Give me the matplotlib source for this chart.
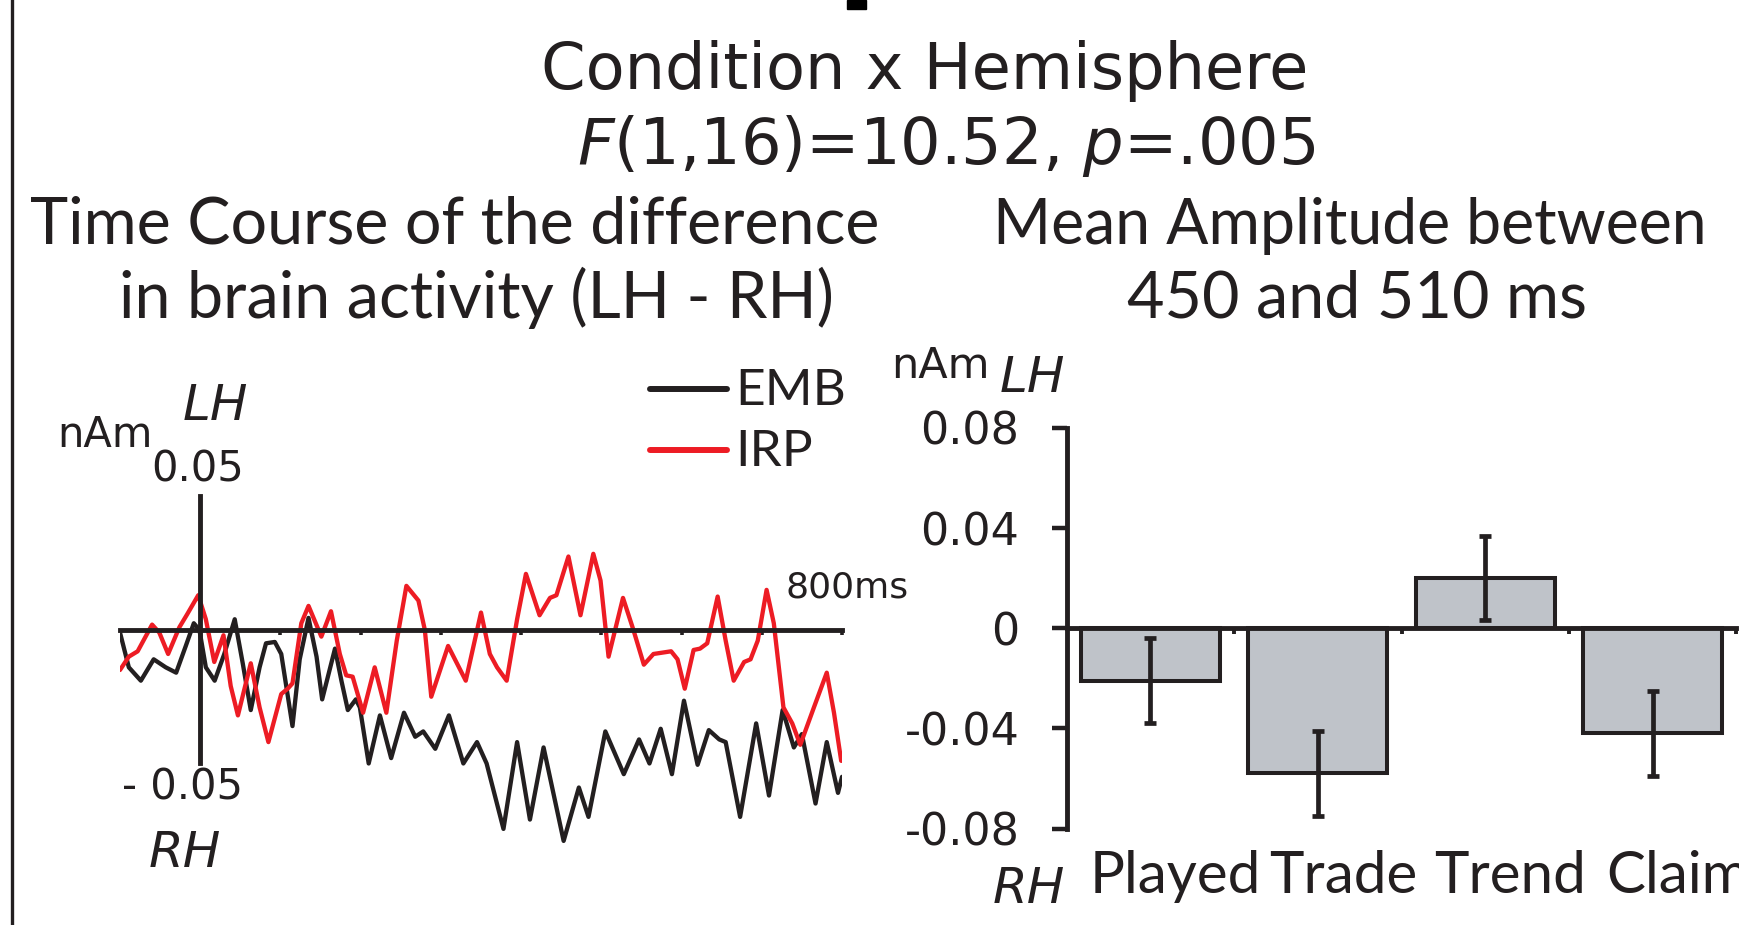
import matplotlib
matplotlib.use("Agg")
import matplotlib.pyplot as plt
from matplotlib import font_manager as fm
from matplotlib.lines import Line2D
from matplotlib.patches import Rectangle
import numpy as np

# ——— Datos ———
# Curso temporal de la diferencia LH - RH (nAm)
emb_t = [-100, -89, -74, -58, -43, -30, -18, -8, -1, 7,
         18, 30, 43, 53, 63, 74, 82, 93, 101, 115,
         124, 135, 145, 152, 168, 176, 184, 194, 199, 210,
         224, 238, 254, 268, 278, 293, 310, 328, 345, 357,
         378, 395, 411, 428, 453, 472, 484, 505, 528, 547,
         560, 574, 588, 603, 620, 634, 647, 655, 673, 693,
         709, 726, 740, 750, 767, 781, 795, 800]
emb_v = [-0.001, -0.014, -0.019, -0.011, -0.014, -0.016, -0.006, 0.0025, 0.0, -0.014,
         -0.019, -0.009, 0.004, -0.0125, -0.030, -0.014, -0.005, -0.0045, -0.009, -0.036,
         -0.011, 0.0045, -0.010, -0.026, -0.007, -0.019, -0.030, -0.026, -0.029, -0.050,
         -0.032, -0.048, -0.031, -0.040, -0.038, -0.0445, -0.032, -0.050, -0.042, -0.050,
         -0.0745, -0.042, -0.071, -0.044, -0.079, -0.059, -0.070, -0.038, -0.054, -0.041,
         -0.050, -0.037, -0.054, -0.0265, -0.0505, -0.0375, -0.041, -0.042, -0.070, -0.035,
         -0.062, -0.030, -0.044, -0.039, -0.065, -0.042, -0.061, -0.055]

irp_t = [-100, -89, -78, -60, -51, -40, -26, -16, -2.5, 7,
         17.5, 29, 38, 47, 63, 74, 85, 101, 109, 115,
         126, 135, 151, 163, 174, 182, 190, 203, 217.5, 232,
         245, 257, 272, 280, 288, 309, 331, 350, 361, 370,
         382, 395, 406, 423, 436, 444, 459, 474, 490, 499,
         509, 527, 540, 553, 565, 576, 587, 595, 604, 615,
         623, 632, 645, 655, 665, 678, 686, 695, 706, 715,
         727, 738, 748, 765, 781, 790, 799, 800]
irp_v = [-0.015, -0.010, -0.008, 0.002, -0.001, -0.009, 0.001, 0.006, 0.013, 0.004,
         -0.012, -0.002, -0.021, -0.032, -0.0125, -0.029, -0.042, -0.024, -0.022, -0.020,
         0.0025, 0.009, -0.0025, 0.007, -0.009, -0.017, -0.0175, -0.031, -0.014, -0.031,
         -0.004, 0.0165, 0.011, 0.0, -0.025, -0.006, -0.019, 0.0065, -0.009, -0.014,
         -0.019, 0.004, 0.021, 0.0055, 0.012, 0.013, 0.0275, 0.0055, 0.0285, 0.0185,
         -0.010, 0.012, 0.0, -0.013, -0.009, -0.0085, -0.008, -0.011, -0.022, -0.0075,
         -0.007, -0.005, 0.0125, -0.004, -0.019, -0.012, -0.011, -0.004, 0.015, 0.0025,
         -0.029, -0.035, -0.043, -0.029, -0.016, -0.031, -0.049, -0.049]

time_ticks = [0, 100, 200, 300, 400, 500, 600, 700, 800]

# Amplitud media 450-510 ms
condiciones = ['Played', 'Trade', 'Trend', 'Claim']
amplitud = [-0.021, -0.058, 0.020, -0.042]
error = [0.017, 0.017, 0.0167, 0.017]
amp_ticks = [0.08, 0.04, 0, -0.04, -0.08]
amp_labels = ['0.08', '0.04', '0', '-0.04', '-0.08']

# ——— Estilo ———
NEGRO = '#231f20'
ROJO = '#ed1c24'
GRIS = '#bfc3c9'
_names = {f.name for f in fm.fontManager.ttflist}
NARROW = 'Liberation Sans Narrow' if 'Liberation Sans Narrow' in _names else 'Lato'
CAT_SIZE = 49 if NARROW == 'Liberation Sans Narrow' else 42
plt.rcParams['font.family'] = ['DejaVu Sans']
plt.rcParams['mathtext.fontset'] = 'dejavusans'

W, H = 1739, 925
fig = plt.figure(figsize=(W / 100, H / 100), dpi=100)

def fx(px): return px / W
def fy(py): return 1 - py / H

def ftext(px, py, s, size, ha='center', family='DejaVu Sans', style='normal'):
    fig.text(fx(px), fy(py), s, fontsize=size, ha=ha, va='baseline',
             family=family, style=style, color=NEGRO)

# títulos
ftext(925, 89, 'Condition x Hemisphere', 46)
ftext(946, 164, r'$\mathit{F}$(1,16)=10.52, $\mathit{p}$=.005', 46)
ftext(455, 244, 'Time Course of the difference', 46.5, family='Lato')
ftext(476, 318, 'in brain activity (LH - RH)', 46.5, family='Lato')
ftext(1350, 244, 'Mean Amplitude between', 45, family='Lato')
ftext(1357, 318, '450 and 510 ms', 46.5, family='Lato')

# borde izquierdo y marca superior
fig.add_artist(Line2D([fx(12), fx(12)], [0, 1], color=NEGRO, lw=2.4))
fig.add_artist(Rectangle((fx(847), fy(9)), fx(19), 9 / H, color='black'))

# ——— Panel izquierdo: curso temporal ———
ax1 = fig.add_axes([fx(120), fy(897), 722 / W, (897 - 443) / H])
ax1.plot(emb_t, emb_v, color=NEGRO, lw=3.1, solid_joinstyle='round',
         solid_capstyle='round')
ax1.plot(irp_t, irp_v, color=ROJO, lw=3.1, solid_joinstyle='round',
         solid_capstyle='round')
ax1.set_xlim(-100, 800)
ax1.set_ylim(-0.1, 0.07)
for s in ['top', 'right']:
    ax1.spines[s].set_visible(False)
ax1.spines['bottom'].set_position(('data', 0))
ax1.spines['left'].set_position(('data', 0))
ax1.spines['left'].set_bounds(-0.05, 0.05)
for s in ['bottom', 'left']:
    ax1.spines[s].set_linewidth(3.5)
    ax1.spines[s].set_color(NEGRO)
ax1.set_xticks(time_ticks)
ax1.set_xticklabels([])
ax1.tick_params(axis='x', direction='out', length=3.5, width=2.6, color=NEGRO)
ax1.set_yticks([])
ax1.patch.set_visible(False)

ftext(105, 447, 'nAm', 30)
ftext(215, 420, 'LH', 36, style='italic')
ftext(198, 482, '0.05', 30)
ftext(183, 799, '- 0.05', 30)
ftext(185, 867, 'RH', 36, style='italic')
ftext(847, 598, '800ms', 26)

# leyenda
fig.add_artist(Line2D([fx(650), fx(727)], [fy(389), fy(389)], color=NEGRO, lw=4.3,
                      solid_capstyle='round'))
fig.add_artist(Line2D([fx(650), fx(727)], [fy(450), fy(450)], color=ROJO, lw=4.3,
                      solid_capstyle='round'))
ftext(735, 405, 'EMB', 37, ha='left', family='Lato')
ftext(735, 466, 'IRP', 37, ha='left', family='Lato')

# ——— Panel derecho: amplitud media ———
ax2 = fig.add_axes([fx(1066.7), fy(828.5), (1736.3 - 1066.7) / W, 400.5 / H])
x = np.arange(len(condiciones))
ax2.bar(x, amplitud, width=0.83, color=GRIS, edgecolor=NEGRO, linewidth=2.9, zorder=2)
ax2.errorbar(x, amplitud, yerr=error, fmt='none', ecolor=NEGRO, elinewidth=3.4,
             capsize=4.5, capthick=3.4, zorder=3)
ax2.set_xlim(-0.5, 3.5)
ax2.set_ylim(-0.08, 0.08)
for s in ['top', 'right']:
    ax2.spines[s].set_visible(False)
ax2.spines['bottom'].set_position(('data', 0))
for s in ['bottom', 'left']:
    ax2.spines[s].set_linewidth(3.5)
    ax2.spines[s].set_color(NEGRO)
    ax2.spines[s].set_zorder(4)
ax2.set_yticks(amp_ticks)
ax2.set_yticklabels(amp_labels)
ax2.tick_params(axis='y', direction='out', length=11, width=3.2, pad=23,
                labelsize=32, color=NEGRO, labelcolor=NEGRO)
ax2.set_xticks(x + 0.5)
ax2.set_xticklabels([])
ax2.tick_params(axis='x', direction='out', length=4, width=2.8, color=NEGRO)
ax2.patch.set_visible(False)

for i, c in enumerate(condiciones):
    ax2.text(i + 0.15, -0.161, c, transform=ax2.get_xaxis_transform(),
             ha='center', va='baseline', fontsize=CAT_SIZE, family=NARROW, color=NEGRO)

ftext(940, 378, 'nAm', 31)
ftext(1032, 392, 'LH', 36, style='italic')
ftext(1029, 903, 'RH', 36, style='italic')

fig.savefig('out.png', dpi=100)
